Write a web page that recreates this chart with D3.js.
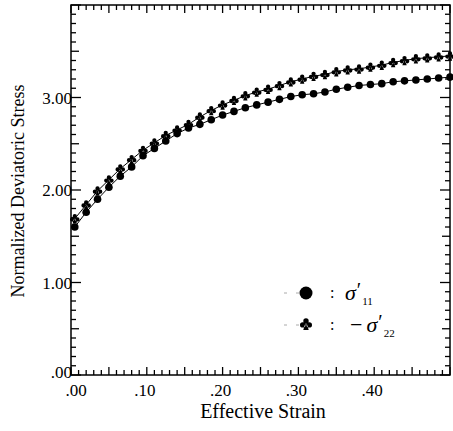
<!DOCTYPE html>
<html>
<head>
<meta charset="utf-8">
<script src="https://cdn.jsdelivr.net/npm/d3@7"></script>
<style>
  body { margin: 0; background: #fff; }
  svg { display: block; font-family: "Liberation Serif", "DejaVu Serif", serif; }
</style>
</head>
<body>
<div id="chart"></div>
<script>
// strain values (x) shared by both series
const strain = d3.range(34).map(i => +(0.005 + 0.015 * i).toFixed(3));

// sigma'_11 (circles)
const sigma11 = [1.60, 1.76, 1.90, 2.03, 2.15, 2.25, 2.37, 2.45, 2.53, 2.61,
                 2.67, 2.71, 2.76, 2.81, 2.85, 2.89, 2.92, 2.95, 2.98, 3.01,
                 3.03, 3.04, 3.06, 3.09, 3.11, 3.13, 3.14, 3.15, 3.17, 3.18,
                 3.19, 3.20, 3.21, 3.22];

// -sigma'_22 (clubs)
const sigma22 = [1.69, 1.84, 1.99, 2.11, 2.23, 2.33, 2.43, 2.51, 2.59, 2.65,
                 2.71, 2.79, 2.86, 2.92, 2.97, 3.02, 3.06, 3.09, 3.13, 3.17,
                 3.20, 3.23, 3.25, 3.28, 3.30, 3.31, 3.33, 3.35, 3.38, 3.40,
                 3.42, 3.43, 3.44, 3.45];

const xTickVals = [0, 0.1, 0.2, 0.3, 0.4];
const xTickLabels = [".00", ".10", ".20", ".30", ".40"];
const yTickVals = [0, 1, 2, 3];
const yTickLabels = [".00", "1.00", "2.00", "3.00"];

const width = 453, height = 431;
const plot = { left: 71, right: 450, top: 5, bottom: 375 };

const svg = d3.select('#chart').append('svg')
    .attr('width', width)
    .attr('height', height);

const xScale = d3.scaleLinear().domain([0, 0.5]).range([plot.left, plot.right]);
const yScale = d3.scaleLinear().domain([0, 4]).range([plot.bottom, plot.top]);

// club glyph centred on 0,0, s = half width
function clubPath(s) {
    const r = s * 0.45;
    const p = d3.path();
    const lobes = [[0, -s * 0.5], [-s * 0.55, s * 0.15], [s * 0.55, s * 0.15]];
    lobes.forEach(([cx, cy]) => { p.moveTo(cx + r, cy); p.arc(cx, cy, r, 0, 2 * Math.PI); });
    p.moveTo(-s * 0.15, 0);
    p.lineTo(-s * 0.45, s);
    p.lineTo(s * 0.45, s);
    p.lineTo(s * 0.15, 0);
    p.closePath();
    return p.toString();
}

// frame
svg.append('rect')
    .attr('x', plot.left).attr('y', plot.top)
    .attr('width', plot.right - plot.left).attr('height', plot.bottom - plot.top)
    .attr('fill', 'none').attr('stroke', '#000').attr('stroke-width', 1.5);

// inward ticks on all four sides
const xMinor = d3.range(0, 51).map(k => k / 100);
const yMinor = d3.range(0, 41).map(k => k / 10);
const xLen = (d, i) => (i % 5 === 0 ? 8 : 5);
const yLen = (d, i) => (i % 10 === 0 ? 10 : (i % 5 === 0 ? 8 : 5));

svg.append('g').selectAll('line').data(xMinor).join('line')
    .attr('x1', d => xScale(d)).attr('x2', d => xScale(d))
    .attr('y1', plot.bottom).attr('y2', (d, i) => plot.bottom - xLen(d, i))
    .attr('stroke', '#000').attr('stroke-width', 1.3);

svg.append('g').selectAll('line').data(xMinor).join('line')
    .attr('x1', d => xScale(d)).attr('x2', d => xScale(d))
    .attr('y1', plot.top).attr('y2', (d, i) => plot.top + xLen(d, i))
    .attr('stroke', '#000').attr('stroke-width', 1.3);

svg.append('g').selectAll('line').data(yMinor).join('line')
    .attr('y1', d => yScale(d)).attr('y2', d => yScale(d))
    .attr('x1', plot.left).attr('x2', (d, i) => plot.left + yLen(d, i))
    .attr('stroke', '#000').attr('stroke-width', 1.3);

svg.append('g').selectAll('line').data(yMinor).join('line')
    .attr('y1', d => yScale(d)).attr('y2', d => yScale(d))
    .attr('x1', plot.right).attr('x2', (d, i) => plot.right - yLen(d, i))
    .attr('stroke', '#000').attr('stroke-width', 1.3);

// tick labels
svg.append('g').selectAll('text')
    .data(xTickVals)
    .join('text')
    .attr('x', (d, i) => xScale(d) + (i === 0 ? 5 : -2))
    .attr('y', 396)
    .attr('text-anchor', 'middle')
    .style('font-size', '17px')
    .text((d, i) => xTickLabels[i]);

svg.append('g').selectAll('text')
    .data(yTickVals)
    .join('text')
    .attr('x', plot.left + 1)
    .attr('y', d => yScale(d) + (d === 0 ? 3 : 6))
    .attr('text-anchor', 'end')
    .style('font-size', '17px')
    .text((d, i) => yTickLabels[i]);

// axis titles
svg.append('text')
    .attr('x', 263).attr('y', 418)
    .attr('text-anchor', 'middle')
    .style('font-size', '20px')
    .text('Effective Strain');

svg.append('text')
    .attr('transform', 'translate(24,191) rotate(-90)')
    .attr('text-anchor', 'middle')
    .style('font-size', '18px')
    .text('Normalized Deviatoric Stress');

// series
const line = d3.line().x(d => xScale(d[0])).y(d => yScale(d[1]));
const s11 = strain.map((x, i) => [x, sigma11[i]]);
const s22 = strain.map((x, i) => [x, sigma22[i]]);

svg.append('path').datum(s11).attr('d', line)
    .attr('fill', 'none').attr('stroke', '#000').attr('stroke-width', 1);
svg.append('path').datum(s22).attr('d', line)
    .attr('fill', 'none').attr('stroke', '#000').attr('stroke-width', 1);

svg.append('g').selectAll('circle')
    .data(s11)
    .join('circle')
    .attr('cx', d => xScale(d[0]))
    .attr('cy', d => yScale(d[1]))
    .attr('r', 3.8)
    .attr('fill', '#000');

svg.append('g').selectAll('path')
    .data(s22)
    .join('path')
    .attr('transform', d => `translate(${xScale(d[0])},${yScale(d[1])})`)
    .attr('d', clubPath(4.8))
    .attr('fill', '#000');

// legend
const legend = svg.append('g');
[293, 325].forEach((y, i) => {
    legend.append('line')
        .attr('x1', 284).attr('x2', 318).attr('y1', y).attr('y2', y)
        .attr('stroke', '#aaa').attr('stroke-width', 1).attr('stroke-dasharray', '3,9');
    if (i === 0) {
        legend.append('circle').attr('cx', 306).attr('cy', y).attr('r', 6.5).attr('fill', '#000');
    } else {
        legend.append('path').attr('transform', `translate(306,${y - 1})`).attr('d', clubPath(6)).attr('fill', '#000');
    }
    legend.append('text').attr('x', 330).attr('y', y + 5).style('font-size', '16px').text(':');
});

const t1 = legend.append('text').attr('x', 345).attr('y', 300).style('font-size', '22px');
t1.append('tspan').style('font-style', 'italic').text('σ');
t1.append('tspan').attr('dx', 1).attr('dy', -3).style('font-size', '20px').text('′');
t1.append('tspan').attr('dx', 1).attr('dy', 8).style('font-size', '11px').text('11');

const t2 = legend.append('text').attr('x', 350).attr('y', 332).style('font-size', '22px');
t2.append('tspan').text('−');
t2.append('tspan').attr('dx', 4).style('font-style', 'italic').text('σ');
t2.append('tspan').attr('dx', 1).attr('dy', -3).style('font-size', '20px').text('′');
t2.append('tspan').attr('dx', 1).attr('dy', 8).style('font-size', '11px').text('22');
</script>
</body>
</html>
